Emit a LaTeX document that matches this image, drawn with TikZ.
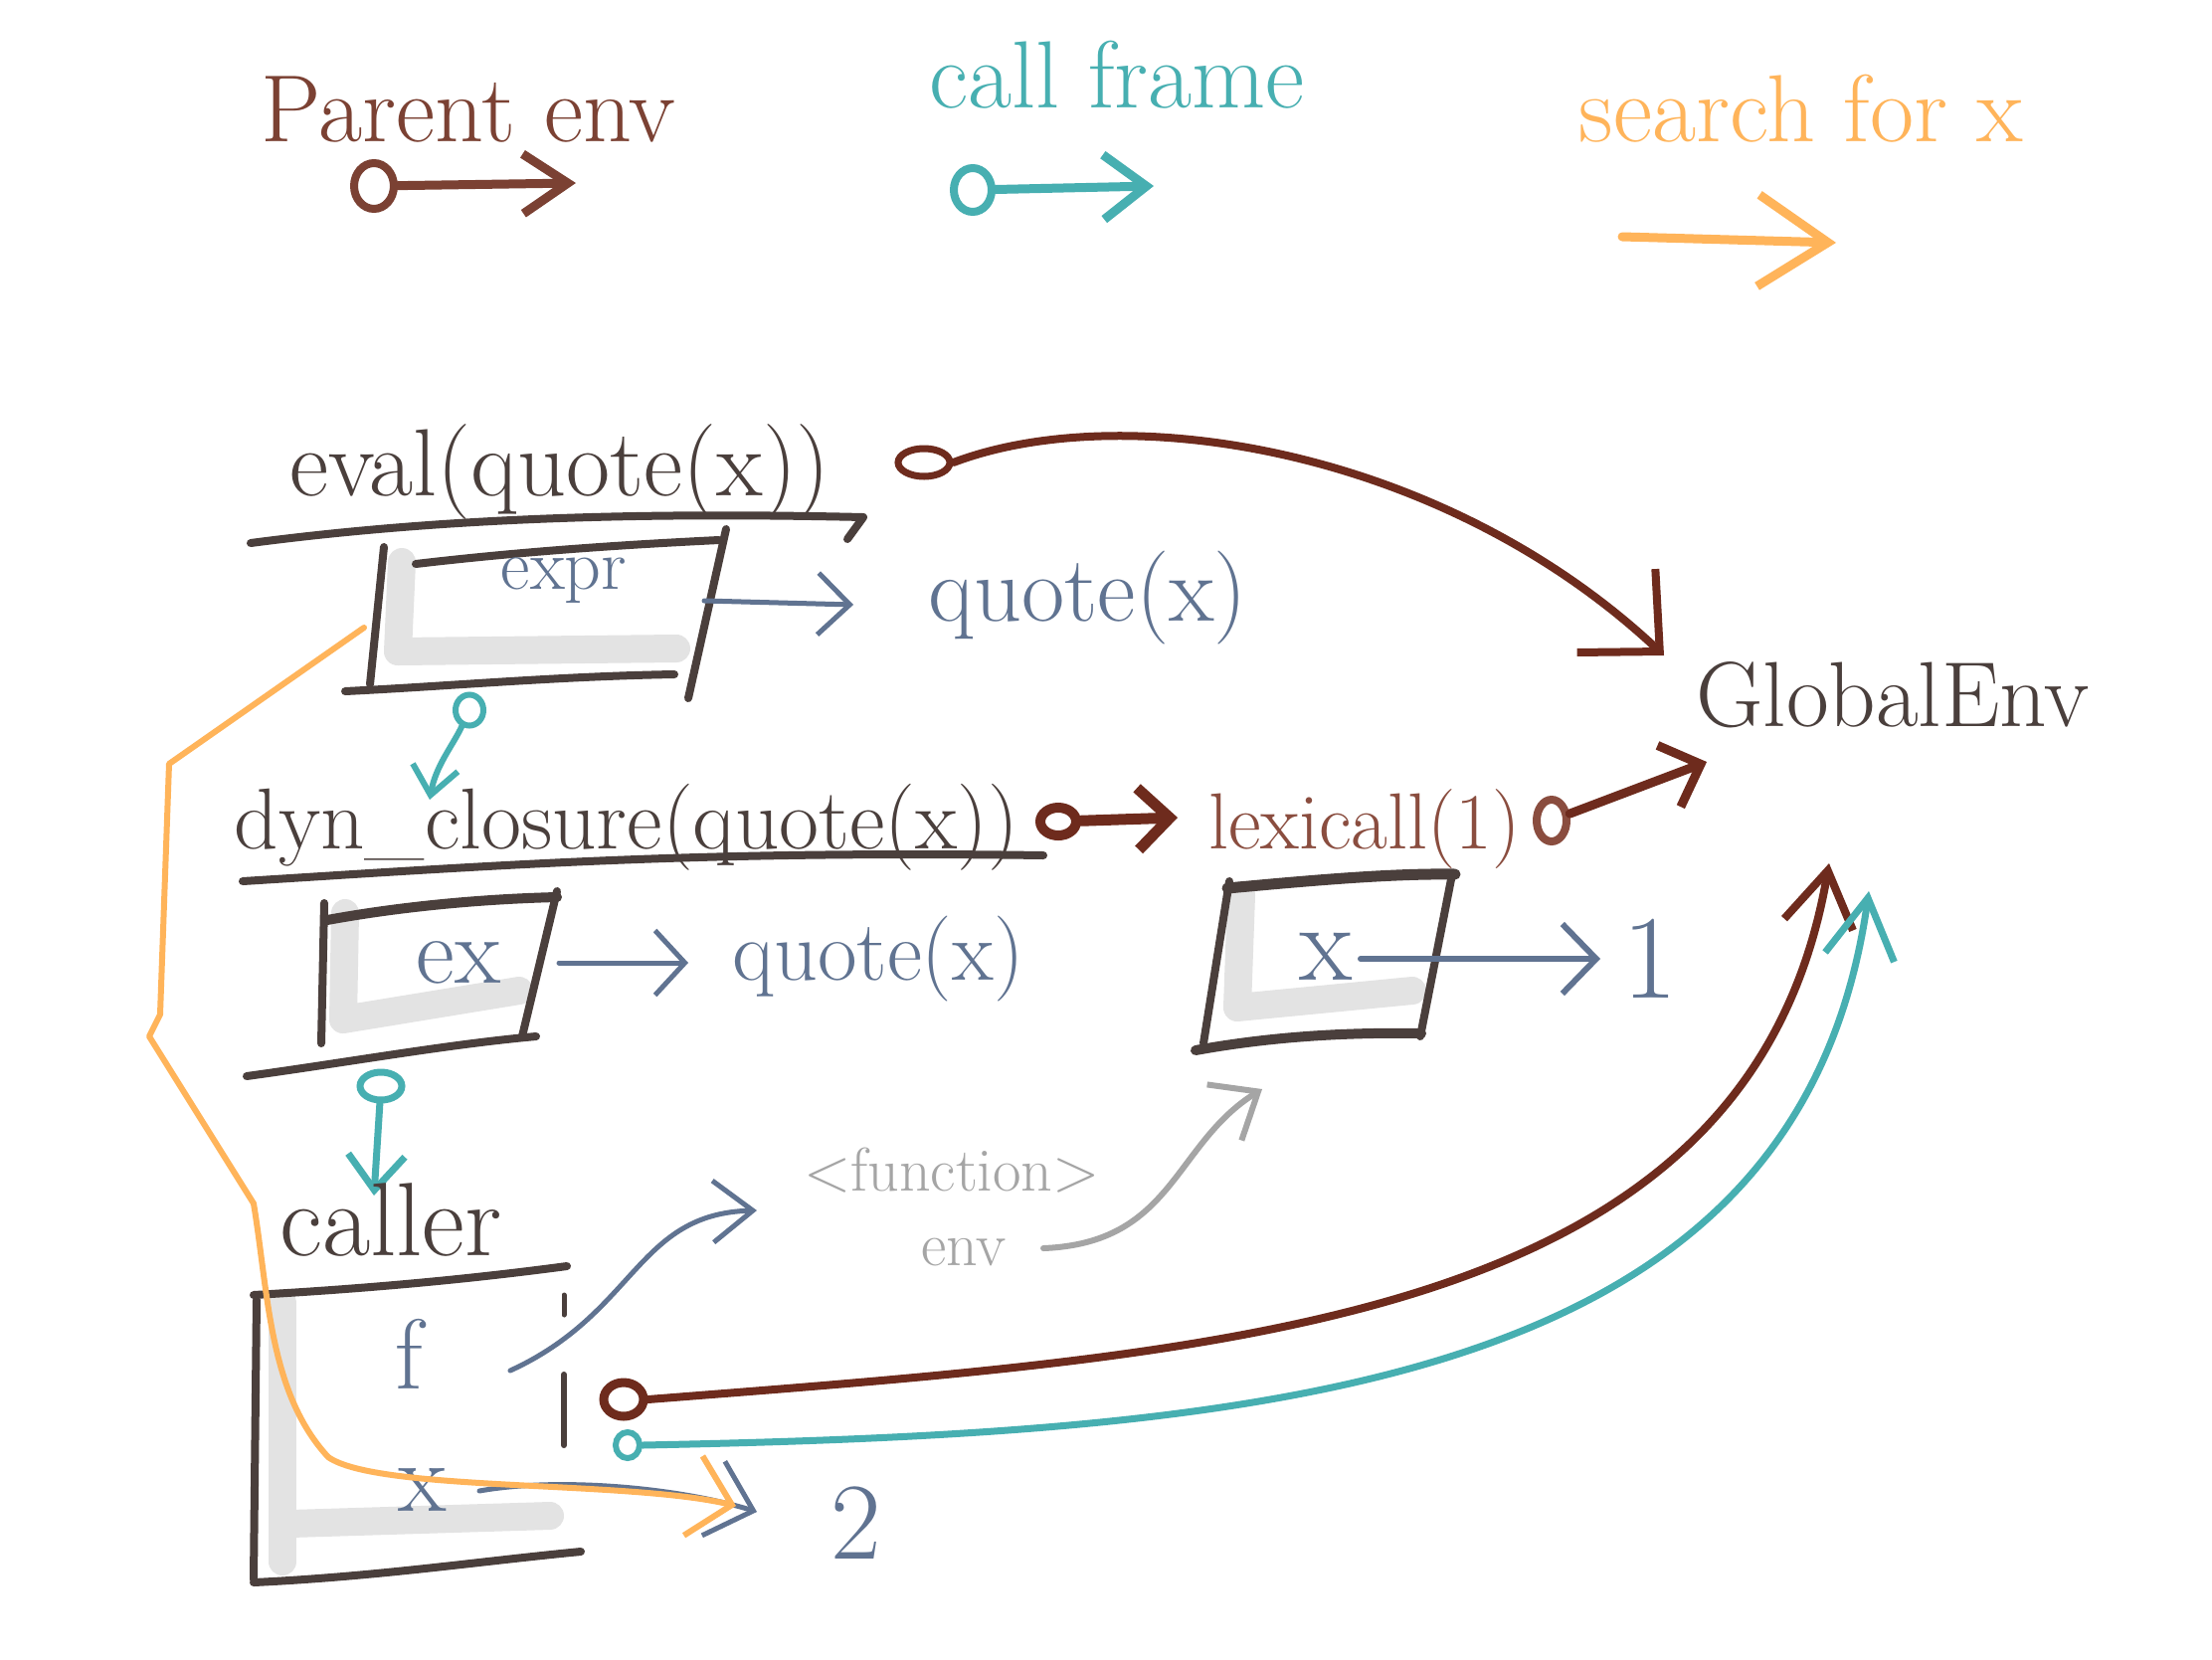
\documentclass[tikz,border=0pt]{standalone}
\usepackage{fontspec}
\usetikzlibrary{arrows.meta,shapes.geometric,calc}
\definecolor{cDark}{HTML}{4A3F3C}
\definecolor{cLegBrown}{HTML}{7B4133}
\definecolor{cBrown}{HTML}{6E2B1D}
\definecolor{cLex}{HTML}{8A4D3F}
\definecolor{cTeal}{HTML}{47AFB1}
\definecolor{cOrange}{HTML}{FFB45A}
\definecolor{cSlate}{HTML}{607391}
\definecolor{cGray}{HTML}{A5A5A5}
\newcommand{\hfs}[1]{\fontsize{#1}{#1}\selectfont}
\begin{document}
\begin{tikzpicture}[x=1pt,y=-1pt,
  hand/.style={line cap=round,line join=round},
  txt/.style={inner sep=0pt},
  ring/.style={draw,ellipse,inner sep=0pt},
  boxln/.style={hand,draw=cDark,line width=8pt},
  shade/.style={hand,draw=black!11,line width=28pt},
  slatearrow/.style={hand,draw=cSlate,line width=5pt},
]
\useasboundingbox (0,0) rectangle (2224,1668);
\fill[white] (0,0) rectangle (2224,1668);

% ---------- legend ----------
\node[txt,text=cLegBrown,font=\hfs{96},anchor=base] (lgParent) at (471,142) {Parent env};
\node[ring,draw=cLegBrown,line width=8pt,minimum width=40pt,minimum height=46pt] (lgPc) at (376,187) {};
\coordinate (lgPt) at (579,184);
\draw[hand,draw=cLegBrown,line width=9pt,-{Straight Barb[length=45pt,width=60pt]}] (lgPc) -- (lgPt);

\node[txt,text=cTeal,font=\hfs{96},anchor=base] (lgCall) at (1123,108) {call frame};
\node[ring,draw=cTeal,line width=8pt,minimum width=38pt,minimum height=44pt] (lgCc) at (978,191) {};
\coordinate (lgCt) at (1160,187);
\draw[hand,draw=cTeal,line width=9pt,-{Straight Barb[length=43pt,width=65pt]}] (lgCc) -- (lgCt);

\node[txt,text=cOrange,font=\hfs{96},anchor=base] (lgSearch) at (1811,142) {search for x};
\coordinate (lgOs) at (1631,238);
\coordinate (lgOt) at (1846,244);
\draw[hand,draw=cOrange,line width=9pt,-{Straight Barb[length=70pt,width=92pt]}] (lgOs) -- (lgOt);

% ---------- shadows ----------
\draw[shade] (404,565) -- (400,655) -- (680,652);
\draw[shade] (347,918) -- (345,1025) -- (522,996);
\draw[shade] (1248,900) -- (1244,1013) -- (1420,996);
\draw[shade] (284,1310) -- (284,1570);
\draw[shade] (292,1532) -- (553,1524);

% ---------- eval(quote(x)) frame ----------
\node[txt,text=cDark,font=\hfs{96},anchor=base] (evalT) at (563,498) {eval(quote(x))};
\node[ring,draw=cBrown,line width=7pt,minimum width=52pt,minimum height=28pt] (evC) at (929,465) {};
\draw[boxln] (252,546) .. controls (450,520) and (650,515) .. (868,520) -- (852,542);
\draw[boxln] (386,550) -- (372,688);
\draw[boxln] (418,567) .. controls (520,555) and (620,548) .. (723,543);
\draw[boxln] (730,532) -- (692,702);
\draw[boxln] (347,695) .. controls (450,690) and (560,680) .. (678,678);
\node[txt,text=cSlate,font=\hfs{72}] (exprT) at (567,584) {expr};
\coordinate (exprR) at (708,604);
\coordinate (exprTip) at (858,608);
\draw[slatearrow,-{Straight Barb[length=32pt,width=62pt]}] (exprR) -- (exprTip);
\node[txt,text=cSlate,font=\hfs{94},anchor=base] (quoteA) at (1094,624) {quote(x)};

% ---------- Global env ----------
\node[txt,text=cDark,font=\hfs{93},anchor=base] (globalT) at (1903,730) {GlobalEnv};
\coordinate (evTip) at (1673,659);
\draw[hand,draw=cBrown,line width=8pt,-{Straight Barb[length=60pt,width=115pt]}]
  (evC.east) .. controls (1130,400) and (1450,450) .. (evTip);

% ---------- dyn_closure frame ----------
\node[txt,text=cDark,font=\hfs{87},anchor=base] (dynT) at (630,853) {dyn\_closure(quote(x))};
\draw[boxln] (244,886) .. controls (500,870) and (700,855) .. (1049,860);
\node[ring,draw=cBrown,line width=10pt,minimum width=36pt,minimum height=28pt] (dynC) at (1064,826) {};
\coordinate (dynTip) at (1184,822);
\draw[hand,draw=cBrown,line width=11pt,-{Straight Barb[length=32pt,width=62pt]}] (dynC) -- (dynTip);
\node[txt,text=cLex,font=\hfs{80},anchor=base] (lexT) at (1372,853) {lexicall(1)};
\node[ring,draw=cLex,line width=8pt,minimum width=30pt,minimum height=42pt] (lexC) at (1560,825) {};
\coordinate (lexTip) at (1716,766);
\draw[hand,draw=cBrown,line width=9pt,-{Straight Barb[length=34pt,width=66pt]}] (lexC) -- (lexTip);

% teal: expr frame -> dyn_closure frame
\node[ring,draw=cTeal,line width=6pt,minimum width=28pt,minimum height=31pt] (tc1) at (472,714) {};
\coordinate (tc1Tip) at (432,804);
\draw[hand,draw=cTeal,line width=6pt,-{Straight Barb[length=28pt,width=46pt]}]
  (tc1) .. controls (455,750) and (438,770) .. (tc1Tip);

% ex box
\draw[boxln] (326,908) -- (323,1049);
\draw[boxln,line width=10pt] (329,925) .. controls (400,912) and (480,904) .. (560,902);
\draw[boxln] (560,896) -- (525,1042);
\draw[boxln] (248,1082) .. controls (350,1068) and (450,1050) .. (539,1042);
\node[txt,text=cSlate,font=\hfs{95}] (exT) at (461,968) {ex};
\coordinate (exR) at (562,968);
\coordinate (exTip) at (692,968);
\draw[slatearrow,-{Straight Barb[length=30pt,width=65pt]}] (exR) -- (exTip);
\node[txt,text=cSlate,font=\hfs{86},anchor=base] (quoteB) at (883,985) {quote(x)};

% x box (lexicall frame)
\draw[boxln,line width=11pt] (1234,893) .. controls (1320,885) and (1400,878) .. (1463,879);
\draw[boxln] (1236,886) -- (1210,1049);
\draw[boxln] (1460,879) -- (1428,1042);
\draw[boxln,line width=10pt] (1202,1056) .. controls (1290,1040) and (1370,1038) .. (1429,1039);
\node[txt,text=cSlate,font=\hfs{110}] (xT) at (1333,962) {x};
\coordinate (xR) at (1368,964);
\coordinate (xTip) at (1609,964);
\draw[slatearrow,line width=6pt,-{Straight Barb[length=34pt,width=70pt]}] (xR) -- (xTip);
\node[txt,text=cSlate,font=\hfs{120}] (oneT) at (1659,964) {1};

% teal: dyn frame -> caller
\node[ring,draw=cTeal,line width=7pt,minimum width=42pt,minimum height=28pt] (tc2) at (383,1092) {};
\coordinate (tc2Tip) at (376,1202);
\draw[hand,draw=cTeal,line width=7pt,-{Straight Barb[length=35pt,width=57pt]}] (tc2) -- (tc2Tip);

% ---------- caller frame ----------
\node[txt,text=cDark,font=\hfs{105},anchor=base] (callerT) at (393,1262) {caller};
\draw[boxln] (255,1302) .. controls (380,1295) and (480,1285) .. (570,1273);
\draw[boxln,line width=5pt] (567,1302) -- (567,1322);
\draw[boxln,line width=6pt] (567,1382) -- (567,1453);
\draw[boxln] (258,1307) -- (255,1588);
\draw[boxln] (255,1591) .. controls (380,1585) and (480,1570) .. (584,1560);
\node[txt,text=cSlate,font=\hfs{100}] (fT) at (411,1361) {f};
\node[txt,text=cSlate,font=\hfs{100}] (cxT) at (425,1498) {x};

% f -> <function env>
\coordinate (fS) at (513,1378);
\coordinate (fTip) at (761,1217);
\draw[slatearrow,-{Straight Barb[length=40pt,width=62pt]}]
  (fS) .. controls (640,1320) and (640,1220) .. (fTip);
\node[txt,text=cGray,font=\hfs{62}] (fnA) at (957,1177) {<function>};
\node[txt,text=cGray,font=\hfs{62}] (fnB) at (969,1259) {env};
\coordinate (fnS) at (1049,1255);
\coordinate (fnTip) at (1269,1095);
\draw[hand,draw=cGray,line width=6pt,-{Straight Barb[length=40pt,width=66pt]}]
  (fnS) .. controls (1180,1250) and (1180,1150) .. (fnTip);

% parent env and call frame of caller
\node[ring,draw=cBrown,line width=9pt,minimum width=40pt,minimum height=34pt] (cbC) at (627,1407) {};
\node[ring,draw=cTeal,line width=6pt,minimum width=24pt,minimum height=26pt] (ctC) at (631,1453) {};
\coordinate (cbTip) at (1839,868);
\coordinate (ctTip) at (1879,896);
\draw[hand,draw=cBrown,line width=8pt,-{Straight Barb[length=55pt,width=70pt]}]
  (cbC.east) .. controls (1250,1360) and (1760,1330) .. (cbTip);
\draw[hand,draw=cTeal,line width=7pt,-{Straight Barb[length=60pt,width=70pt]}]
  (ctC.east) .. controls (1300,1440) and (1810,1390) .. (ctTip);

% x -> 2
\coordinate (cxS) at (482,1499);
\coordinate (cxTip) at (761,1520);
\draw[slatearrow,-{Straight Barb[length=42pt,width=78pt]}]
  (cxS) .. controls (560,1485) and (680,1495) .. (cxTip);
\node[txt,text=cSlate,font=\hfs{110}] (twoT) at (861,1531) {2};

% ---------- search path ----------
\coordinate (oS) at (366,631);
\coordinate (oE) at (740,1514);
\draw[hand,draw=cOrange,line width=6pt,-{Straight Barb[length=40pt,width=82pt]}]
  (oS) -- (170,768) -- (161,1020) -- (150,1042) -- (255,1210)
  .. controls (270,1300) and (270,1400) .. (330,1465)
  .. controls (380,1500) and (630,1488) .. (oE);
\end{tikzpicture}
\end{document}
